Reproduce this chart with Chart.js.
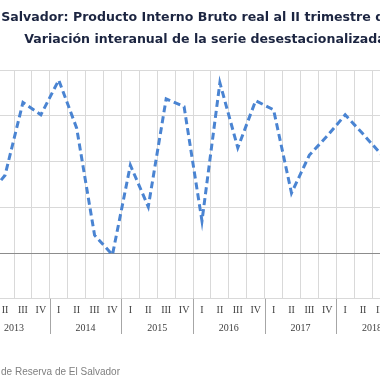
<!DOCTYPE html>
<html>
<head>
<meta charset="utf-8">
<script src="https://cdn.jsdelivr.net/npm/chart.js@4.4.1/dist/chart.umd.min.js"></script>
<style>
  html, body { margin: 0; padding: 0; background: #ffffff; }
  body { width: 380px; height: 380px; overflow: hidden; position: relative; }
  #wrap { position: absolute; left: -60px; top: 0; width: 520px; height: 380px; }
  .title { position: absolute; width: 610px; text-align: center; white-space: nowrap;
           font-family: "DejaVu Sans", sans-serif; font-weight: bold; color: #1c2541; }
  #t1 { top: 9px; left: -97px; }
  #t2 { top: 31px; left: -100px; }
  #src { position: absolute; right: 260px; top: 366px; white-space: nowrap; text-align: right;
         font-family: "Liberation Sans", sans-serif; font-size: 10px; color: #7f7f7f; }
</style>
</head>
<body>
<div id="wrap"><canvas id="c" width="520" height="380"></canvas></div>
<div class="title" id="t1">El Salvador: Producto Interno Bruto real al II trimestre de 2018</div>
<div class="title" id="t2">Variación interanual de la serie desestacionalizada</div>
<div id="src">Fuente: Banco Central de Reserva de El Salvador</div>
<script>
// ---- data ----
const years = ["2013", "2014", "2015", "2016", "2017", "2018"];
const quarters = ["I", "II", "III", "IV"];
const categories = [];
years.forEach(y => quarters.forEach(q => categories.push(q)));
const growth = [
  1.22, 1.70, 3.29, 3.02,   // 2013
  3.78, 2.73, 0.39, -0.04,  // 2014
  1.92, 1.01, 3.37, 3.20,   // 2015
  0.70, 3.72, 2.30, 3.33,   // 2016
  3.13, 1.31, 2.14, 2.56,   // 2017
  3.02, 2.60, 2.16, null    // 2018
];
const yTicks = [-1, 0, 1, 2, 3, 4];

// fit title font size
(function(){
  const cv = document.createElement('canvas').getContext('2d');
  cv.font = 'bold 100px "DejaVu Sans"';
  const w = cv.measureText(document.getElementById('t2').textContent).width;
  const size = 100 * 362 / w;
  document.querySelectorAll('.title').forEach(el => el.style.fontSize = size.toFixed(2) + 'px');
})();

const yearPlugin = {
  id: 'yearPlugin',
  afterDraw(chart) {
    const xs = chart.scales.x;
    const ctx = chart.ctx;
    const bottom = chart.chartArea.bottom;
    const half = (xs.getPixelForValue(1) - xs.getPixelForValue(0)) / 2;
    ctx.save();
    ctx.strokeStyle = '#a6a6a6';
    ctx.lineWidth = 1;
    for (let i = 0; i <= years.length; i++) {
      const idx = Math.min(i * 4, categories.length - 1);
      let x = i * 4 < categories.length ? xs.getPixelForValue(idx) - half : xs.getPixelForValue(idx) + half;
      x = Math.round(x) + 0.5;
      ctx.beginPath();
      ctx.moveTo(x, bottom);
      ctx.lineTo(x, 334);
      ctx.stroke();
    }
    ctx.fillStyle = '#404040';
    ctx.font = '10px "Liberation Serif"';
    ctx.textAlign = 'center';
    ctx.textBaseline = 'middle';
    years.forEach((y, i) => {
      const cx = (xs.getPixelForValue(i * 4) + xs.getPixelForValue(i * 4 + 3)) / 2;
      ctx.fillText(y, cx, 328);
    });
    ctx.restore();
  }
};

new Chart(document.getElementById('c'), {
  type: 'line',
  data: {
    labels: categories,
    datasets: [{
      data: growth,
      borderColor: '#4a84d2',
      borderWidth: 3,
      borderDash: [7, 4],
      pointRadius: 0,
      tension: 0,
      fill: false,
      spanGaps: false
    }]
  },
  options: {
    responsive: false,
    animation: false,
    layout: { padding: { left: 0, right: 52.15, top: 70, bottom: 0 } },
    plugins: { legend: { display: false }, title: { display: false }, tooltip: { enabled: false } },
    scales: {
      x: {
        type: 'category',
        offset: true,
        grid: { offset: true, color: '#d9d9d9', lineWidth: 1, drawTicks: false },
        border: { display: false },
        ticks: { autoSkip: false, maxRotation: 0, padding: 6, color: '#404040',
                 font: { family: 'Liberation Serif', size: 10 } },
        afterFit(scale) { scale.height = 81.25; }
      },
      y: {
        min: -1, max: 4,
        afterBuildTicks(scale) { scale.ticks = yTicks.map(v => ({ value: v })); },
        grid: {
          color: ctx => (ctx.tick && ctx.tick.value === 0) ? '#8c8c8c' : '#d9d9d9',
          lineWidth: 1, drawTicks: false
        },
        border: { display: false },
        ticks: { color: '#595959', font: { family: 'Liberation Sans', size: 10 },
                 callback: v => v.toFixed(1) },
        afterFit(scale) { scale.width = 38.2; }
      }
    }
  },
  plugins: [yearPlugin]
});
</script>
</body>
</html>
